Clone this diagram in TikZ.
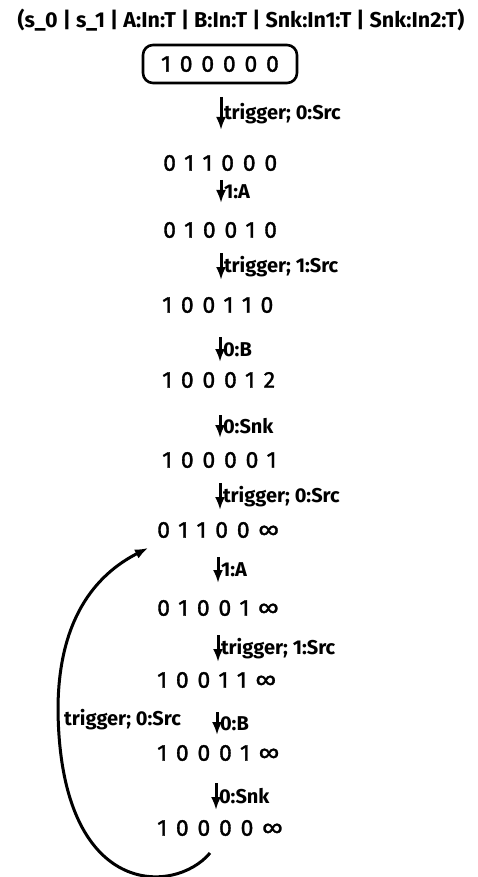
\documentclass[tikz,border=0pt]{standalone}
\usepackage{fontspec}
\setmainfont{Fira Sans}
\newfontfamily\statefont[LetterSpace=38, FakeBold=1.4]{Fira Sans}
\usetikzlibrary{arrows.meta}

\tikzset{
  statetxt/.style={font=\statefont\fontsize{23}{23}\selectfont, inner sep=0pt, anchor=west},
  startbox/.style={draw, line width=2.6pt, rounded corners=10pt, minimum width=154pt,
    minimum height=38pt, inner sep=0pt, font=\statefont\fontsize{23}{23}\selectfont},
  flow/.style={line width=3pt, -{Latex[length=13pt,width=10pt]}},
  flowlbl/.style={font=\bfseries\fontsize{20}{20}\selectfont, inner sep=1.5pt, anchor=west},
  headtxt/.style={font=\bfseries\fontsize{21.5}{22}\selectfont, inner sep=0pt}
}

\begin{document}
\begin{tikzpicture}[x=1pt, y=-1pt]
  \useasboundingbox (0,0) rectangle (478,877);

  % column header
  \node[headtxt] (head) at (241,20) {(s\_0 | s\_1 | A:In:T | B:In:T | Snk:In1:T | Snk:In2:T)};

  % initial state
  \node[startbox] (s0) at (220,64) {100000};

  % reachable states
  \node[statetxt] (s1)  at (163,163) {011000};
  \node[statetxt] (s2)  at (163,230) {010010};
  \node[statetxt] (s3)  at (162,305) {100110};
  \node[statetxt] (s4)  at (162,380) {100012};
  \node[statetxt] (s5)  at (162,460) {100001};
  \node[statetxt] (s6)  at (157,530) {01100∞};
  \node[statetxt] (s7)  at (157,608) {01001∞};
  \node[statetxt] (s8)  at (157,680) {10011∞};
  \node[statetxt] (s9)  at (157,753) {10001∞};
  \node[statetxt] (s10) at (157,828) {10000∞};

  % transition arrow end points
  \coordinate (t1)  at (221,97);  \coordinate (h1)  at (221,130);
  \coordinate (t2)  at (221,180); \coordinate (h2)  at (221,203);
  \coordinate (t3)  at (221,253); \coordinate (h3)  at (221,280);
  \coordinate (t4)  at (220,337); \coordinate (h4)  at (220,362);
  \coordinate (t5)  at (220,415); \coordinate (h5)  at (220,438);
  \coordinate (t6)  at (220,483); \coordinate (h6)  at (220,510);
  \coordinate (t7)  at (218,557); \coordinate (h7)  at (218,583);
  \coordinate (t8)  at (218,635); \coordinate (h8)  at (218,662);
  \coordinate (t9)  at (217,712); \coordinate (h9)  at (217,735);
  \coordinate (t10) at (216,783); \coordinate (h10) at (216,810);

  \draw[flow] (t1)  -- (h1)  node[midway, flowlbl] {trigger; 0:Src};
  \draw[flow] (t2)  -- (h2)  node[midway, flowlbl] {1:A};
  \draw[flow] (t3)  -- (h3)  node[midway, flowlbl] {trigger; 1:Src};
  \draw[flow] (t4)  -- (h4)  node[midway, flowlbl] {0:B};
  \draw[flow] (t5)  -- (h5)  node[midway, flowlbl] {0:Snk};
  \draw[flow] (t6)  -- (h6)  node[midway, flowlbl] {trigger; 0:Src};
  \draw[flow] (t7)  -- (h7)  node[midway, flowlbl] {1:A};
  \draw[flow] (t8)  -- (h8)  node[midway, flowlbl] {trigger; 1:Src};
  \draw[flow] (t9)  -- (h9)  node[midway, flowlbl] {0:B};
  \draw[flow] (t10) -- (h10) node[midway, flowlbl] {0:Snk};

  % loop back from the last state to the first infinite one
  \coordinate (loopS) at (210,853);
  \coordinate (loopL) at (58,710);
  \coordinate (loopE) at (148,548);
  \draw[flow] (loopS) .. controls (175,895) and (60,900) .. (loopL)
                      .. controls (58,620) and (95,575) .. (loopE);
  \node[flowlbl, inner sep=0pt] (loopLbl) at (64,720) {trigger; 0:Src};
\end{tikzpicture}
\end{document}
